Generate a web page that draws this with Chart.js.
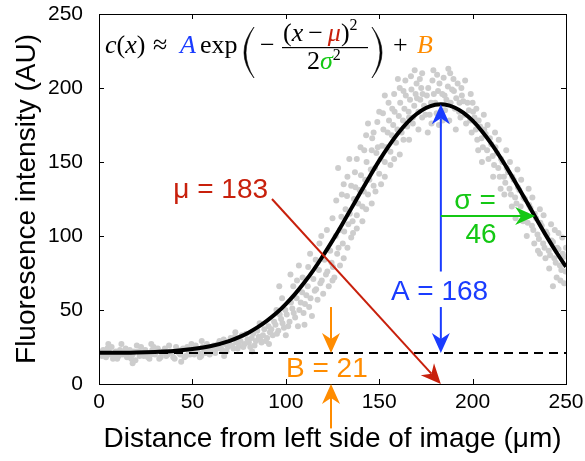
<!DOCTYPE html>
<html>
<head>
<meta charset="utf-8">
<script src="https://cdn.jsdelivr.net/npm/chart.js@4"></script>
<style>
  html, body { margin: 0; padding: 0; background: #fff; }
</style>
</head>
<body>
<canvas id="chart" width="585" height="461"></canvas>
<script>
// axis ticks
const xTicks = [0, 50, 100, 150, 200, 250];
const yTicks = [0, 50, 100, 150, 200, 250];

// fitted gaussian
const fitX = [0, 10, 20, 30, 40, 50, 60, 70, 75, 80, 85, 90, 95, 100, 105, 110, 115, 120, 125, 130, 135, 140, 145, 150, 155, 160, 165, 170, 175, 180, 183, 185, 190, 195, 200, 205, 210, 215, 220, 225, 230, 235, 240, 245, 250];
const fitY = [21.1, 21.1, 21.3, 21.7, 22.3, 23.6, 25.7, 29.2, 31.7, 34.7, 38.4, 42.8, 47.9, 54.0, 60.9, 68.7, 77.3, 86.8, 96.9, 107.5, 118.5, 129.5, 140.4, 150.9, 160.6, 169.2, 176.6, 182.4, 186.5, 188.7, 189.0, 188.8, 187.0, 183.4, 177.9, 170.8, 162.4, 152.9, 142.6, 131.7, 120.8, 109.7, 98.9, 88.7, 79.2];

// fit parameters shown in the annotations
const ampA = 168;
const muVal = 183;
const sigmaVal = 46;
const baseB = 21;

// raw intensity profile (grey dots)
const samples = [
  [0,22],[1.5,19],[3,21],[4.5,24],[6,20],[7.5,17],[9,22],[10.5,19],[12,27],[13.5,21],
  [15,18],[16.5,23],[18,20],[19.5,16],[21,22],[22.5,25],[24,19],[25.5,21],[27,17],[28.5,23],
  [30,20],[31.5,24],[33,18],[34.5,22],[36,19],[37.5,26],[39,21],[40.5,17],[42,23],[43.5,20],
  [45,24],[46.5,19],[48,22],[49.5,27],[51,20],[52.5,23],[54,18],[55.5,25],[57,21],[58.5,24],
  [60,22],[61.5,26],[63,24],[64.5,29],[66,23],[67.5,27],[69,25],[70.5,31],[72,24],[73.5,28],
  [75,26],[76.5,33],[78,27],[79.5,30],[81,25],[82.5,34],[84,29],[85.5,32],[87,28],[88.5,37],
  [90,31],[91.5,35],[93,33],[94.5,40],[96,36],[97.5,44],[99,38],[100.5,47],[102,42],[103.5,51],
  [105,45],[106.5,39],[108,55],[109.5,48],[111,60],[112.5,52],[114,46],[115.5,63],[117,57],[118.5,68],
  [120,61],[121.5,74],[123,66],[124.5,82],[126,72],[96.5,66],[102.5,74],[107,80],[113,88],[118,95],
  [127.5,88],[129,104],[130.5,95],[132,118],[133.5,108],[135,99],[136.5,125],[138,114],[139.5,131],[141,120],
  [142.5,138],[144,128],[145.5,145],[147,134],[148.5,156],[150,142],[151.5,161],[153,150],[154.5,170],[156,157],
  [157.5,175],[159,163],[160.5,181],[162,170],[163.5,186],[165,174],[166.5,192],[168,180],[169.5,196],[171,184],
  [172.5,200],[174,188],[128,146],[131,135],[134,152],[137,143],[140,160],[143,168],[146,158],[149,177],
  [152,183],[155,190],[158,196],[161,200],[164,205],[167,208],[170,203],[173,210],[131,85],[136,102],
  [141,110],[146,122],[151,135],[156,148],[161,155],[166,165],[171,172],
  [175.5,195],[177,182],[178.5,205],[180,190],[181.5,198],[183,184],[184.5,207],[186,192],[187.5,178],[189,199],
  [190.5,186],[192,203],[193.5,180],[195,191],[176,170],[179,212],[182,175],[185,195],[188,210],[191,172],[194,200],
  [196.5,176],[198,185],[199.5,170],[201,180],[202.5,165],[204,174],[205.5,160],[207,169],[208.5,152],[210,162],
  [211.5,148],[213,156],[214.5,140],[216,150],[217.5,136],[219,143],[220.5,128],[222,138],[223.5,122],[225,131],
  [226.5,115],[228,125],[229.5,109],[231,119],[232.5,104],[234,112],[235.5,98],[237,107],[238.5,92],[240,101],
  [241.5,87],[243,96],[244.5,82],[246,91],[247.5,77],[249,86],[200,190],[206,182],[212,170],[218,158],
  [224,145],[230,132],[236,118],[242,108],[248,99],[203,158],[215,132],[227,110],[239,85],[245,72],
  [233,95],[221,120],[243,66],
  [0.75,20],[2.25,23],[3.75,18],[5.25,22],[6.75,25],[8.25,20],[9.75,17],[11.25,23],[12.75,20],[14.25,24],
  [15.75,21],[17.25,17],[18.75,22],[20.25,26],[21.75,19],[23.25,21],[24.75,23],[26.25,18],[27.75,20],[29.25,25],
  [30.75,22],[32.25,17],[33.75,21],[35.25,24],[36.75,20],[38.25,22],[39.75,18],[41.25,25],[42.75,21],[44.25,23],
  [45.75,18],[47.25,25],[48.75,20],[50.25,23],[51.75,26],[53.25,21],[54.75,19],[56.25,22],[57.75,27],[59.25,20],
  [60.75,25],[62.25,21],[63.75,27],[65.25,24],[66.75,30],[68.25,22],[69.75,27],[71.25,26],[72.75,32],[74.25,24],
  [75.75,29],[77.25,25],[78.75,34],[80.25,28],[81.75,31],[83.25,26],[84.75,36],[86.25,30],[87.75,33],[89.25,29],
  [90.75,39],[92.25,37],[93.75,42],[95.25,34],[96.75,47],[98.25,41],[99.75,50],[101.25,39],[102.75,55],[104.25,48],
  [105.75,58],[107.25,50],[108.75,62],[110.25,54],[111.75,66],[113.25,58],[114.75,71],[116.25,64],[117.75,77],[119.25,70],
  [120.75,84],[122.25,76],[123.75,90],[125.25,79],[126.75,100],[128.25,92],[129.75,113],[131.25,103],[132.75,127],[134.25,115],
  [135.75,110],[137.25,133],[138.75,122],[140.25,141],[141.75,130],[143.25,150],[144.75,138],[146.25,166],[147.75,146],[149.25,160],
  [150.75,152],[152.25,172],[153.75,160],[155.25,178],[156.75,168],[158.25,184],[159.75,172],[161.25,190],[162.75,178],[164.25,195],
  [165.75,184],[167.25,199],[168.75,188],[170.25,193],[171.75,206],[173.25,196],[174.75,182],[176.25,200],[177.75,190],[179.25,196],
  [180.75,183],[182.25,203],[183.75,196],[185.25,185],[186.75,201],[188.25,190],[189.75,206],[191.25,193],[192.75,184],[194.25,195],
  [195.75,182],[197.25,190],[198.75,178],[200.25,184],[201.75,172],[203.25,178],[204.75,166],[206.25,172],[207.75,158],[209.25,166],
  [210.75,154],[212.25,160],[213.75,146],[215.25,152],[216.75,140],[218.25,146],[219.75,132],[221.25,140],[222.75,126],[224.25,133],
  [225.75,120],[227.25,126],[228.75,114],[230.25,121],[231.75,107],[233.25,115],[234.75,101],[236.25,109],[237.75,95],[239.25,103],
  [240.75,90],[242.25,97],[243.75,85],[245.25,92],[246.75,80],[248.25,88],[249.75,76],
  [98,58],[104,66],[109,72],[112,79],[116,84],[119,100],[122,104],[125,112],[127,124],[130,128],
  [133,140],[135,134],[138,152],[142,158],[144,176],[147,170],[150,184],[153,195],[157,186],[160,206],
  [163,198],[166,180],[169,212],[172,192],[125,70],[129,80],[133,92],[138,105],[143,118],[148,130],
  [153,140],[158,152],[163,165],[168,176],[173,180],[178,176],[181,209],[184,178],[187,213],[190,198],
  [193,190],[196,205],[199,196],[202,186],[205,150],[208,175],[211,140],[214,165],[217,128],[220,150],
  [223,112],[226,138],[229,100],[232,126],[235,90],[238,114],[241,78],[244,104],[247,70],[250,92],
  [236,88],[246,102],[249,68],[5,27],[18,14],[28,27],[44,15],[55,29],[67,19],[73,35],
  [82,22],[86,41],[91,27],[95,50],[100,33],[106,70],[110,40]
];

const SANS = "'Liberation Sans', Arial, sans-serif";
const SERIF = "'Liberation Serif', 'Times New Roman', serif";
const BLUE = '#1a3cff', RED = '#c8200c', GREEN = '#14c814', ORANGE = '#ff8c00';

function arrow(ctx, x0, y0, x1, y1, color) {
  const dx = x1 - x0, dy = y1 - y0;
  const len = Math.hypot(dx, dy);
  const ux = dx / len, uy = dy / len;
  const px = -uy, py = ux;
  const L = 20, W = 9, N = 6;
  ctx.strokeStyle = color;
  ctx.fillStyle = color;
  ctx.lineWidth = 2;
  ctx.beginPath();
  ctx.moveTo(x0, y0);
  ctx.lineTo(x1 - ux * (L - N), y1 - uy * (L - N));
  ctx.stroke();
  ctx.beginPath();
  ctx.moveTo(x1, y1);
  ctx.lineTo(x1 - ux * L + px * W, y1 - uy * L + py * W);
  ctx.lineTo(x1 - ux * (L - N), y1 - uy * (L - N));
  ctx.lineTo(x1 - ux * L - px * W, y1 - uy * L - py * W);
  ctx.closePath();
  ctx.fill();
}

function runs(ctx, x, y, parts) {
  parts.forEach(p => {
    ctx.font = p.f;
    ctx.fillStyle = p.c || '#000';
    ctx.fillText(p.t, x, y + (p.dy || 0));
    x += ctx.measureText(p.t).width + (p.sp || 0);
  });
  return x;
}

// tall bracket drawn as a crescent, x is its outer edge
function bigParen(ctx, x, top, bottom, open) {
  const mid = (top + bottom) / 2;
  const s = open ? 1 : -1;
  ctx.fillStyle = '#000';
  ctx.beginPath();
  ctx.moveTo(x + s * 11, top);
  ctx.quadraticCurveTo(x - s * 9, mid, x + s * 11, bottom);
  ctx.quadraticCurveTo(x - s * 5, mid, x + s * 11, top);
  ctx.fill();
  ctx.strokeStyle = '#000';
  ctx.lineWidth = 0.6;
  ctx.stroke();
}

const frame = {
  id: 'frame',
  afterDraw(chart) {
    const { ctx, chartArea: a, scales: { x, y } } = chart;
    ctx.save();
    ctx.strokeStyle = '#000';
    ctx.lineWidth = 1;
    ctx.strokeRect(a.left + 0.5, a.top + 0.5, a.right - a.left, a.bottom - a.top);
    ctx.beginPath();
    xTicks.forEach(v => {
      const p = Math.round(x.getPixelForValue(v)) + 0.5;
      ctx.moveTo(p, a.bottom); ctx.lineTo(p, a.bottom - 5);
      ctx.moveTo(p, a.top); ctx.lineTo(p, a.top + 5);
    });
    yTicks.forEach(v => {
      const p = Math.round(y.getPixelForValue(v)) + 0.5;
      ctx.moveTo(a.left, p); ctx.lineTo(a.left + 5, p);
      ctx.moveTo(a.right, p); ctx.lineTo(a.right - 5, p);
    });
    ctx.stroke();

    // formula
    const R = '26px ' + SERIF, I = 'italic 26px ' + SERIF, S = '16px ' + SERIF;
    const L = a.left, T = a.top, base = T + 39;
    ctx.textAlign = 'left';
    ctx.textBaseline = 'alphabetic';
    runs(ctx, L + 6, base, [{ t: 'c', f: I }, { t: '(', f: R }, { t: 'x', f: I }, { t: ')', f: R }]);
    runs(ctx, L + 54, base, [{ t: '≈', f: R }]);
    runs(ctx, L + 81, base, [{ t: 'A', f: I, c: BLUE }]);
    runs(ctx, L + 101, base, [{ t: 'exp', f: R }]);
    bigParen(ctx, L + 144, T + 13, T + 64, true);
    runs(ctx, L + 161, base, [{ t: '−', f: R }]);
    runs(ctx, L + 184, T + 27, [
      { t: '(', f: R }, { t: 'x', f: I, sp: 5 }, { t: '−', f: R, sp: 5 }, { t: 'μ', f: I, c: RED },
      { t: ')', f: R }, { t: '2', f: S, dy: -11 }
    ]);
    ctx.fillStyle = '#000';
    ctx.fillRect(L + 183, T + 33, 86, 1.2);
    runs(ctx, L + 208, T + 55, [
      { t: '2', f: R }, { t: 'σ', f: I, c: GREEN }, { t: '2', f: S, dy: -9 }
    ]);
    bigParen(ctx, L + 284, T + 13, T + 64, false);
    runs(ctx, L + 294, base, [{ t: '+', f: R }]);
    runs(ctx, L + 318, base, [{ t: 'B', f: I, c: ORANGE }]);

    // annotations
    const X = v => x.getPixelForValue(v), Y = v => y.getPixelForValue(v);
    const peak = ampA + baseB;
    ctx.font = '28px ' + SANS;

    arrow(ctx, X(92.6), Y(125), X(muVal), Y(0), RED);
    ctx.fillStyle = RED; ctx.textAlign = 'right';
    ctx.fillText('μ = ' + muVal, X(90.5), Y(125.5));

    arrow(ctx, X(muVal), Y(76), X(muVal), Y(peak), BLUE);
    arrow(ctx, X(muVal), Y(52), X(muVal), Y(baseB), BLUE);
    ctx.fillStyle = BLUE; ctx.textAlign = 'center';
    ctx.fillText('A = ' + ampA, X(182.3), Y(57));

    arrow(ctx, X(muVal), Y(113.5), X(233.5), Y(113.5), GREEN);
    ctx.fillStyle = GREEN;
    ctx.fillText('σ =', X(201.3), Y(118));
    ctx.fillText(String(sigmaVal), X(204.5), Y(95));

    arrow(ctx, X(124.2), Y(52), X(124.2), Y(baseB), ORANGE);
    arrow(ctx, X(124.2), Y(-30), X(124.2), Y(0), ORANGE);
    ctx.fillStyle = ORANGE;
    ctx.fillText('B = ' + baseB, X(122), Y(4.5));
    ctx.restore();
  }
};

new Chart(document.getElementById('chart'), {
  type: 'scatter',
  data: {
    datasets: [
      {
        type: 'line',
        data: fitX.map((v, i) => ({ x: v, y: fitY[i] })),
        borderColor: '#000',
        borderWidth: 4,
        pointRadius: 0,
        cubicInterpolationMode: 'monotone',
        fill: false
      },
      {
        type: 'line',
        data: [{ x: 0, y: baseB }, { x: 250, y: baseB }],
        borderColor: '#000',
        borderWidth: 2,
        borderDash: [9, 6],
        pointRadius: 0,
        fill: false
      },
      {
        data: samples.map(p => ({ x: p[0], y: p[1] })),
        pointRadius: 3,
        pointBackgroundColor: '#cdcdcd',
        pointBorderWidth: 0
      }
    ]
  },
  options: {
    responsive: false,
    animation: false,
    devicePixelRatio: 1,
    layout: { padding: { top: 14, right: 19, left: 0, bottom: 0 } },
    plugins: { legend: { display: false }, tooltip: { enabled: false } },
    scales: {
      x: {
        type: 'linear', min: 0, max: 250,
        afterBuildTicks: s => { s.ticks = xTicks.map(v => ({ value: v })); },
        afterFit: s => { s.height = 77; s.paddingLeft = 0; s.paddingRight = 0; },
        grid: { display: false, drawTicks: false },
        border: { display: false },
        ticks: { color: '#000', padding: 6, maxRotation: 0, font: { family: SANS, size: 21 } },
        title: { display: true, text: 'Distance from left side of image (μm)', color: '#000',
                 padding: { top: 0, bottom: 5 }, font: { family: SANS, size: 28 } }
      },
      y: {
        type: 'linear', min: 0, max: 250,
        afterBuildTicks: s => { s.ticks = yTicks.map(v => ({ value: v })); },
        afterFit: s => { s.width = 99; s.paddingTop = 0; s.paddingBottom = 0; },
        grid: { display: false, drawTicks: false },
        border: { display: false },
        ticks: { color: '#000', padding: 16, font: { family: SANS, size: 21 } },
        title: { display: true, text: 'Fluoresence intensity (AU)', color: '#000',
                 padding: { top: 10, bottom: 0 }, font: { family: SANS, size: 28 } }
      }
    }
  },
  plugins: [frame]
});
</script>
</body>
</html>
